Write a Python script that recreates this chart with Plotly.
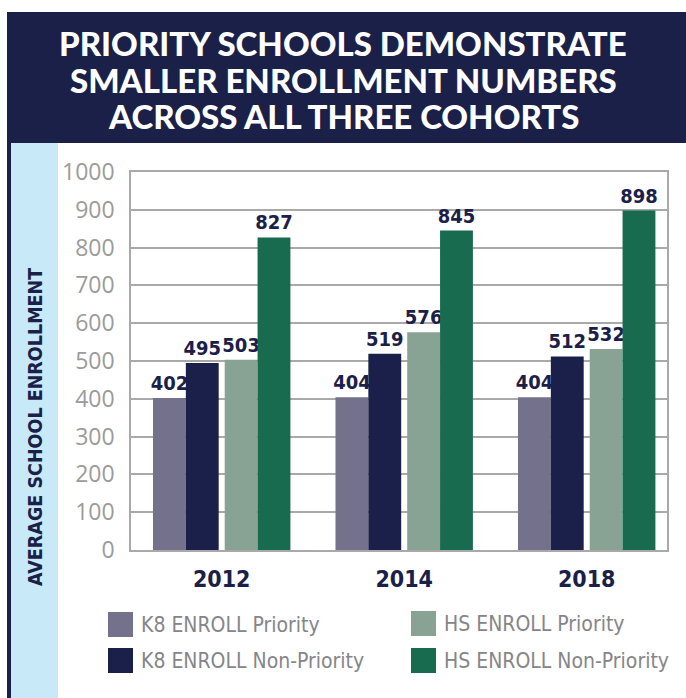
import plotly.graph_objects as go

# Cohort years and average enrollment per school group
years = ["2012", "2014", "2018"]
series_names = [
    "K8 ENROLL Priority",
    "K8 ENROLL Non-Priority",
    "HS ENROLL Priority",
    "HS ENROLL Non-Priority",
]
k8_priority = [402, 404, 404]
k8_non_priority = [495, 519, 512]
hs_priority = [503, 576, 532]
hs_non_priority = [827, 845, 898]

series_values = [k8_priority, k8_non_priority, hs_priority, hs_non_priority]
series_colors = ["#73718c", "#1a2049", "#88a394", "#196b50"]

NAVY = "#1b2049"
GRID = "#a9a9a9"
COND = "DejaVu Sans Condensed, Roboto, sans-serif"
W, H = 686, 698
M_L, M_R, M_T, M_B = 131, 19, 172, 148
PW, PH = W - M_L - M_R, H - M_T - M_B


def px_x(x):
    return (x - M_L) / PW


def px_y(y):
    return (H - M_B - y) / PH


# Bars: K8 pair and HS pair side by side with a small gap between pairs
bar_w = 0.18
gap = 0.033
offsets = [-2 * bar_w - gap / 2, -bar_w - gap / 2, gap / 2, bar_w + gap / 2]

fig = go.Figure()
for name, vals, color, off in zip(series_names, series_values, series_colors, offsets):
    fig.add_trace(go.Bar(
        x=years, y=vals, name=name,
        marker=dict(color=color, line=dict(width=0)),
        width=bar_w, offset=off,
        text=[str(v) for v in vals], textposition="outside",
        constraintext="none", cliponaxis=False,
        textfont=dict(family=COND, size=20, color=NAVY, weight="bold"),
        showlegend=False,
    ))

shapes = []
annotations = []

# Title banner and side strip
shapes.append(dict(type="rect", xref="paper", yref="paper", layer="below",
                   x0=px_x(7), x1=px_x(686), y0=px_y(143), y1=px_y(12),
                   fillcolor=NAVY, line=dict(width=0)))
shapes.append(dict(type="rect", xref="paper", yref="paper", layer="below",
                   x0=px_x(8), x1=px_x(58), y0=px_y(698), y1=px_y(143),
                   fillcolor="#c8e9f8", line=dict(width=0)))
shapes.append(dict(type="rect", xref="paper", yref="paper", layer="below",
                   x0=px_x(7), x1=px_x(11), y0=px_y(698), y1=px_y(143),
                   fillcolor=NAVY, line=dict(width=0)))

title_lines = ["PRIORITY SCHOOLS DEMONSTRATE", "SMALLER ENROLLMENT NUMBERS",
               "ACROSS ALL THREE COHORTS"]
for i, line in enumerate(title_lines):
    annotations.append(dict(
        text=line, xref="paper", yref="paper", x=px_x(343), y=px_y(43 + 36.5 * i),
        xanchor="center", yanchor="middle", showarrow=False,
        font=dict(family="Lato", size=33, color="white", weight=900),
    ))

annotations.append(dict(
    text="AVERAGE SCHOOL ENROLLMENT", xref="paper", yref="paper",
    x=px_x(35), y=px_y(427), xanchor="center", yanchor="middle",
    textangle=-90, showarrow=False,
    font=dict(family=COND, size=19.5, color=NAVY, weight="bold"),
))

# Two-column legend
legend_pos = [(108, 612), (108, 648), (411, 611), (411, 648)]
for name, color, (lx, ly) in zip(series_names, series_colors, legend_pos):
    shapes.append(dict(type="rect", xref="paper", yref="paper",
                       x0=px_x(lx), x1=px_x(lx + 25), y0=px_y(ly + 25), y1=px_y(ly),
                       fillcolor=color, line=dict(width=0)))
    annotations.append(dict(
        text=name, xref="paper", yref="paper", x=px_x(lx + 31), y=px_y(ly + 13),
        xanchor="left", yanchor="middle", showarrow=False,
        font=dict(family=COND, size=21, color="#858589"),
    ))

fig.update_layout(
    width=W, height=H,
    margin=dict(l=M_L, r=M_R, t=M_T, b=M_B, pad=0),
    paper_bgcolor="white", plot_bgcolor="white",
    barmode="overlay",
    shapes=shapes, annotations=annotations,
    xaxis=dict(
        type="category", range=[-0.497, 2.44],
        showgrid=False, showline=True, mirror=True, linecolor=GRID, linewidth=1.5,
        ticks="", ticklabelstandoff=8,
        tickfont=dict(family=COND, size=23, color=NAVY, weight="bold"),
    ),
    yaxis=dict(
        range=[0, 1000], dtick=100, tick0=0,
        showgrid=True, gridcolor=GRID, gridwidth=1.5,
        showline=True, mirror=True, linecolor=GRID, linewidth=1.5,
        zeroline=False, ticks="", ticklabelstandoff=10,
        tickfont=dict(family="Open Sans", size=23, color="#9b9b9b"),
    ),
)

fig.write_html("out.html")
